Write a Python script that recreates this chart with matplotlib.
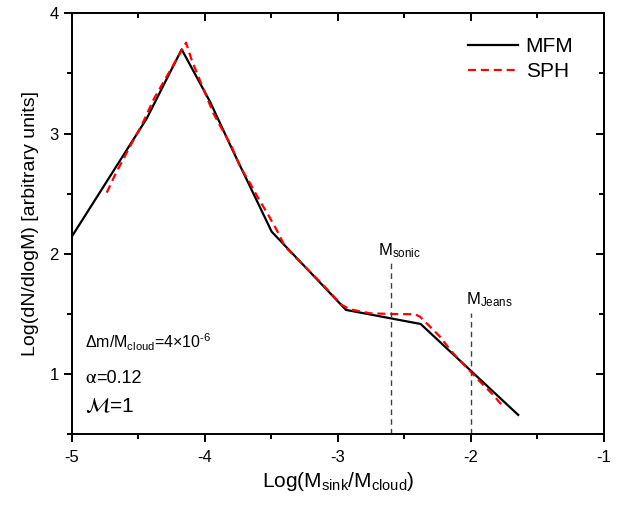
import matplotlib
matplotlib.use("Agg")
import matplotlib.pyplot as plt
from matplotlib.ticker import MultipleLocator

plt.rcParams.update({"font.family": ["Liberation Sans", "DejaVu Sans"],
                     "mathtext.fontset": "custom",
                     "mathtext.rm": "Liberation Sans",
                     "mathtext.it": "Liberation Sans",
                     "mathtext.default": "regular",
                     "axes.unicode_minus": False})

# sink mass function
mfm_x = [-5.0, -4.437, -4.174, -3.961, -3.798, -3.498, -2.939, -2.378, -1.645]
mfm_y = [2.143, 3.125, 3.70, 3.265, 2.878, 2.185, 1.534, 1.417, 0.661]

sph_x = [-4.737, -4.675, -4.549, -4.474, -4.387, -4.141, -4.099, -4.023, -3.936,
         -3.861, -3.798, -3.735, -3.66, -3.598, -3.523, -3.46, -3.397, -3.298,
         -3.135, -2.971, -2.909, -2.759, -2.596, -2.421, -2.383, -2.333, -2.233,
         -2.145, -1.945, -1.845, -1.757]
sph_y = [2.509, 2.656, 2.92, 3.07, 3.28, 3.756, 3.612, 3.404, 3.169,
         3.016, 2.891, 2.725, 2.587, 2.462, 2.323, 2.199, 2.06, 1.949,
         1.769, 1.575, 1.539, 1.506, 1.50, 1.498, 1.478, 1.423, 1.312,
         1.187, 0.952, 0.841, 0.73]

m_sonic, m_sonic_top = -2.6, 1.92
m_jeans, m_jeans_top = -2.0, 1.51

fig = plt.figure(figsize=(6.24, 5.07), dpi=100)
ax = fig.add_axes([0.115, 0.1434, 0.853, 0.8304])

ax.plot(mfm_x, mfm_y, color="black", lw=1.6, label="MFM")
ax.plot(sph_x, sph_y, color="red", lw=1.6, dashes=(3.6, 2.2), label="SPH")

ax.plot([m_sonic, m_sonic], [0.5, m_sonic_top], color="#404040", lw=1.0, dashes=(4, 3))
ax.plot([m_jeans, m_jeans], [0.5, m_jeans_top], color="#404040", lw=1.0, dashes=(4, 3))
ax.text(-2.699, 1.991, r"M$_{sonic}$", fontsize=12)
ax.text(-2.034, 1.584, r"M$_{Jeans}$", fontsize=12)

ax.text(-4.90, 1.215, r"Δm/M$_{cloud}$=4×10$^{\text{-6}}$", fontsize=11.5)
t_alpha = ax.text(-4.90, 0.924, "α", fontsize=14, family="STIXGeneral")
ax.annotate("=0.12", xy=(1, 0), xycoords=t_alpha, va="bottom", fontsize=13)
ax.text(-4.90, 0.688, r"$\mathcal{M}$=1", fontsize=15, math_fontfamily="stix")

ax.set_xlim(-5, -1)
ax.set_ylim(0.5, 4)
ax.xaxis.set_major_locator(MultipleLocator(1))
ax.xaxis.set_minor_locator(MultipleLocator(0.5))
ax.yaxis.set_major_locator(MultipleLocator(1))
ax.yaxis.set_minor_locator(MultipleLocator(0.5))
ax.tick_params(which="both", direction="out", width=1.4, labelsize=12)
ax.tick_params(which="major", length=6)
ax.tick_params(which="minor", length=3.8)
ax.tick_params(axis="x", pad=5)
ax.tick_params(axis="y", pad=3.5)
for s in ax.spines.values():
    s.set_linewidth(1.4)

# top / right ticks point inward
top = ax.secondary_xaxis("top")
top.xaxis.set_major_locator(MultipleLocator(1))
top.xaxis.set_minor_locator(MultipleLocator(0.5))
top.tick_params(which="both", direction="in", width=1.4, labeltop=False)
top.tick_params(which="major", length=6)
top.tick_params(which="minor", length=3.8)
right = ax.secondary_yaxis("right")
right.yaxis.set_major_locator(MultipleLocator(1))
right.yaxis.set_minor_locator(MultipleLocator(0.5))
right.tick_params(which="both", direction="in", width=1.4, labelright=False)
right.tick_params(which="major", length=6)
right.tick_params(which="minor", length=3.8)
top.spines["top"].set_linewidth(1.4)
right.spines["right"].set_linewidth(1.4)

ax.set_xlabel(r"Log(M$_{sink}$/M$_{cloud}$)", fontsize=15)
ax.set_ylabel("Log(dN/dlogM) [arbitrary units]", fontsize=14)
ax.yaxis.set_label_coords(-0.062, 0.5)

ax.legend(loc="upper left", bbox_to_anchor=(0.745, 0.944), frameon=False, fontsize=15,
          handlelength=2.4, handletextpad=0.35, labelspacing=0.3, borderpad=0,
          borderaxespad=0)

fig.savefig("out.png", dpi=100)
